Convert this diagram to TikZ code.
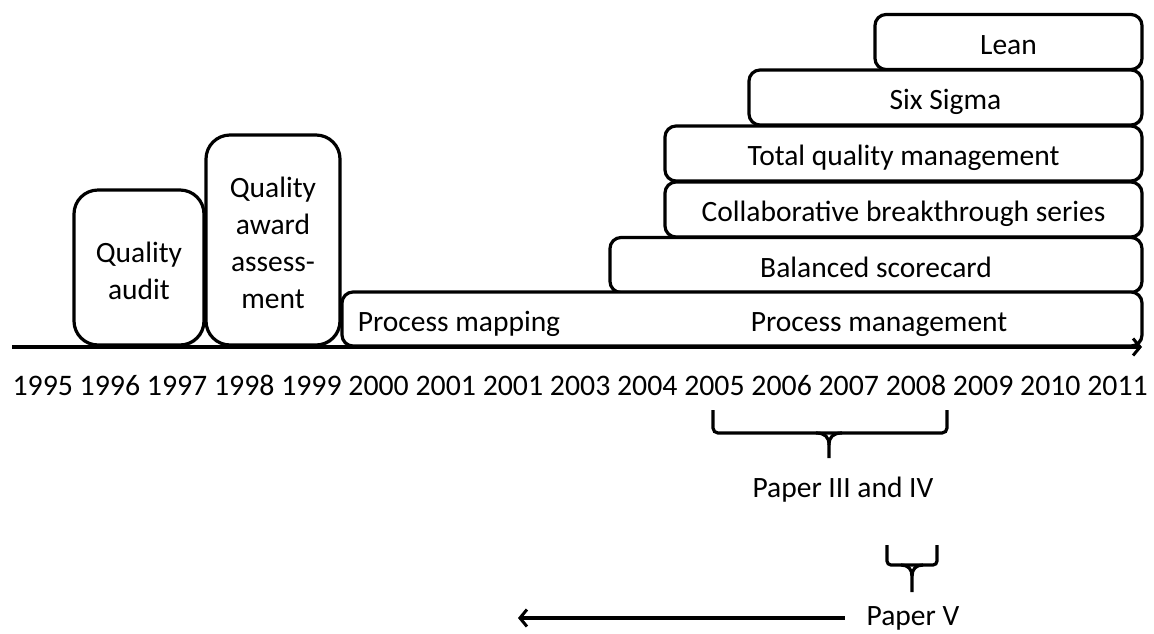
\documentclass[tikz,border=0pt]{standalone}
\usepackage{fontspec}
\setmainfont{Carlito}
\usetikzlibrary{arrows.meta,shadows}
\begin{document}
\begin{tikzpicture}[x=1pt,y=-1pt,
  every node/.style={font=\fontsize{29.5}{37}\selectfont, inner sep=0pt},
  lbl/.style={text height=18.6pt, text depth=0pt},
  boxlbl/.style={text height=24.4pt, text depth=0pt},
  box/.style={draw, line width=3.2, fill=white, rounded corners=#1,
    drop shadow={shadow xshift=1.2pt, shadow yshift=-1.6pt, opacity=0.22, fill=black}},
  box/.default=11,
  line/.style={line width=3.2},
  barb/.style={-{Straight Barb[length=7,width=17,line width=3]}}
]
\useasboundingbox (0,0) rectangle (1154,633);

% stacked method boxes (top rows first so lower rows overlap their shadows)
\node[box, boxlbl, minimum width=267, minimum height=55] (lean) at (1008.5,42) {Lean};
\node[box, boxlbl, minimum width=393, minimum height=55] (sixsigma) at (945.5,97.5) {Six Sigma};
\node[box, boxlbl, minimum width=477, minimum height=55] (tqm) at (903.5,153.5) {Total quality management};
\node[box, boxlbl, minimum width=477, minimum height=55] (cbs) at (903.5,209.5) {Collaborative breakthrough series};
\node[box, boxlbl, minimum width=532, minimum height=55] (bsc) at (876,265) {Balanced scorecard};
\node[box, minimum width=800, minimum height=54] (process) at (742,319) {};
\node[lbl] (pmap) at (459,322) {Process mapping};
\node[lbl] (pman) at (879,322) {Process management};

% early methods
\node[box=24, minimum width=130, minimum height=155] (audit) at (139,267.5) {};
\node[align=center] at ([yshift=-3pt]audit.center) {Quality\\audit};
\node[box=24, minimum width=134, minimum height=210] (award) at (273,240) {};
\node[align=center] at ([yshift=-3pt]award.center) {Quality\\award\\assess-\\ment};

% time axis
\coordinate (ax0) at (12,347);
\coordinate (ax1) at (1142,347);
\draw[line, barb] (ax0) -- (ax1);
\node[lbl, font=\fontsize{29.8}{37}\selectfont] (years) at (580,386)
  {1995 1996 1997 1998 1999 2000 2001 2001 2003 2004 2005 2006 2007 2008 2009 2010 2011};

% brace for papers III and IV
\draw[line, rounded corners=5] (713,410) -- (713,433) -- (947,433) -- (947,410);
\draw[line] (816,433) .. controls (825,433) and (829,437) .. (829,445) -- (829,458);
\draw[line] (842,433) .. controls (833,433) and (829,437) .. (829,445);
\node[lbl] (p34) at (843,488) {Paper III and IV};

% brace for paper V
\draw[line, rounded corners=4] (887,545) -- (887,565) -- (937,565) -- (937,545);
\draw[line] (901,565) .. controls (908,565) and (912,569) .. (912,576) -- (912,592);
\draw[line] (923,565) .. controls (916,565) and (912,569) .. (912,576);
\node[lbl] (p5) at (913,616) {Paper V};
\coordinate (p5end) at (518,618);
\draw[line, barb, shorten <=22] ([yshift=-2pt]p5.west) -- (p5end);
\end{tikzpicture}
\end{document}
